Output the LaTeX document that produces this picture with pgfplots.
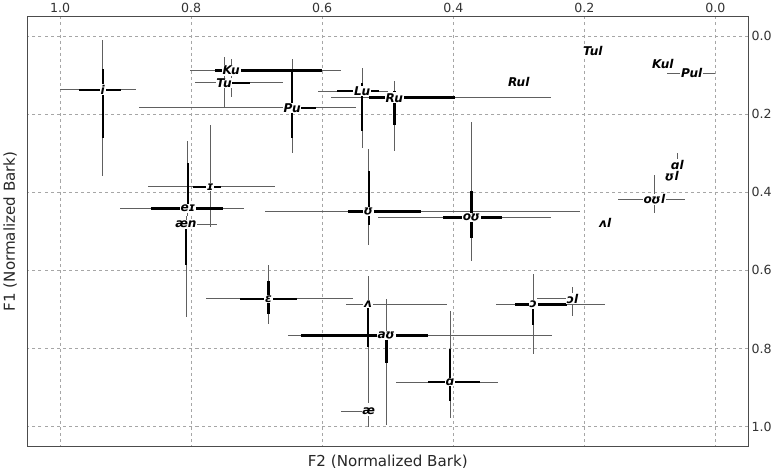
\documentclass[border=0pt]{standalone}
\usepackage{pgfplots}
\pgfplotsset{compat=1.18}
\usepackage{pgfplotstable}
\usepackage{fontspec}
\setmainfont{DejaVu Sans}

% x y label, thin x range, thick x range, thin y range, thick y range
\pgfplotstableread{
x     y     lab  txl   txh   kxl   kxh   tyl   tyh   kyl   kyh
0.935 0.138 i    0.884 1.000 0.907 0.971 0.010 0.359 0.085 0.260
0.739 0.088 Ku   0.571 0.802 0.600 0.763 0.060 0.157 0.088 0.088
0.750 0.120 Tu   0.660 0.794 0.710 0.761 0.053 0.182 0.120 0.120
0.646 0.184 Pu   0.548 0.879 0.610 0.660 0.060 0.299 0.088 0.260
0.539 0.141 Lu   0.500 0.607 0.513 0.577 0.083 0.286 0.120 0.243
0.490 0.158 Ru   0.251 0.587 0.397 0.528 0.114 0.294 0.140 0.229
0.771 0.386 ɪ    0.672 0.866 0.754 0.797 0.228 0.490 0.386 0.386
0.805 0.442 eɪ   0.720 0.909 0.751 0.861 0.270 0.462 0.324 0.450
0.808 0.483 æn   0.761 0.825 0.808 0.808 0.462 0.720 0.500 0.587
0.529 0.449 ʊ    0.206 0.687 0.449 0.561 0.290 0.535 0.346 0.483
0.372 0.465 oʊ   0.251 0.515 0.326 0.415 0.219 0.576 0.397 0.518
0.168 0.479 ʌl   0.168 0.168 0.168 0.168 0.465 0.479 0.479 0.479
0.093 0.419 oʊl  0.047 0.149 0.093 0.093 0.356 0.453 0.419 0.419
0.058 0.330 ɑl   0.058 0.058 0.058 0.058 0.300 0.330 0.330 0.330
0.066 0.358 ʊl   0.066 0.066 0.066 0.066 0.358 0.358 0.358 0.358
0.187 0.038 Tul  0.187 0.187 0.187 0.187 0.038 0.038 0.038 0.038
0.080 0.073 Kul  0.080 0.080 0.080 0.080 0.073 0.073 0.073 0.073
0.036 0.096 Pul  0.000 0.073 0.036 0.036 0.096 0.096 0.096 0.096
0.300 0.118 Rul  0.300 0.300 0.300 0.300 0.118 0.118 0.118 0.118
0.682 0.673 ɛ    0.553 0.778 0.638 0.725 0.586 0.737 0.628 0.712
0.530 0.686 ʌ    0.410 0.564 0.530 0.530 0.614 0.939 0.686 0.797
0.502 0.767 aʊ   0.249 0.653 0.438 0.633 0.673 0.995 0.767 0.836
0.529 0.961 æ    0.529 0.571 0.529 0.529 0.961 1.000 0.961 0.961
0.405 0.886 ɑ    0.331 0.487 0.359 0.438 0.703 0.978 0.802 0.935
0.278 0.687 ɔ    0.169 0.334 0.226 0.305 0.608 0.815 0.687 0.741
0.218 0.673 ɔl   0.210 0.272 0.218 0.218 0.643 0.716 0.673 0.673
}\vowels

\begin{document}
\begin{tikzpicture}
\begin{axis}[
  width=716pt, height=427pt, scale only axis,
  x dir=reverse, y dir=reverse,
  xmin=-0.05, xmax=1.05, ymin=-0.05, ymax=1.05,
  xtick={0,0.2,0.4,0.6,0.8,1.0},
  ytick={0,0.2,0.4,0.6,0.8,1.0},
  xticklabel pos=top, yticklabel pos=right,
  /pgf/number format/.cd, fixed, fixed zerofill, precision=1, assume math mode=true,
  /pgfplots/.cd,
  ticklabel style={font=\fontsize{12.5}{14}\selectfont, text=black!80},
  tick style={draw=none},
  grid=major,
  grid style={dashed, gray!70, line width=0.6pt},
  axis line style={gray!60!black, line width=1pt},
  xlabel={F2 (Normalized Bark)},
  ylabel={F1 (Normalized Bark)},
  every axis x label/.style={at={(axis description cs:0.5,0)}, anchor=north, yshift=-5pt,
    font=\fontsize{15}{17}\selectfont, text=black!85},
  every axis y label/.style={at={(axis description cs:0,0.5)}, rotate=90, anchor=south, yshift=7pt,
    font=\fontsize{15}{17}\selectfont, text=black!85},
  clip=false,
]
% thin (gray) ranges
\addplot[only marks, mark=none,
  error bars/.cd, x dir=both, y dir=both, x explicit, y explicit, error mark=none,
  error bar style={draw=gray!75!black, line width=0.9pt, solid}]
  table[x=x, y=y,
    x error plus expr=\thisrow{txh}-\thisrow{x},
    x error minus expr=\thisrow{x}-\thisrow{txl},
    y error plus expr=\thisrow{tyh}-\thisrow{y},
    y error minus expr=\thisrow{y}-\thisrow{tyl}] {\vowels};
% thick (black) ranges
\addplot[only marks, mark=none,
  error bars/.cd, x dir=both, y dir=both, x explicit, y explicit, error mark=none,
  error bar style={draw=black, line width=2.4pt, solid, line cap=butt}]
  table[x=x, y=y,
    x error plus expr=\thisrow{kxh}-\thisrow{x},
    x error minus expr=\thisrow{x}-\thisrow{kxl},
    y error plus expr=\thisrow{kyh}-\thisrow{y},
    y error minus expr=\thisrow{y}-\thisrow{kyl}] {\vowels};
% labels
\addplot[only marks, mark=none,
  point meta=explicit symbolic,
  nodes near coords,
  nodes near coords align=center,
  every node near coord/.style={anchor=center, font=\fontsize{12}{14}\selectfont\bfseries\itshape,
    fill=white, inner sep=0.8pt, text=black}]
  table[x=x, y=y, meta=lab] {\vowels};
\end{axis}
\end{tikzpicture}
\end{document}
